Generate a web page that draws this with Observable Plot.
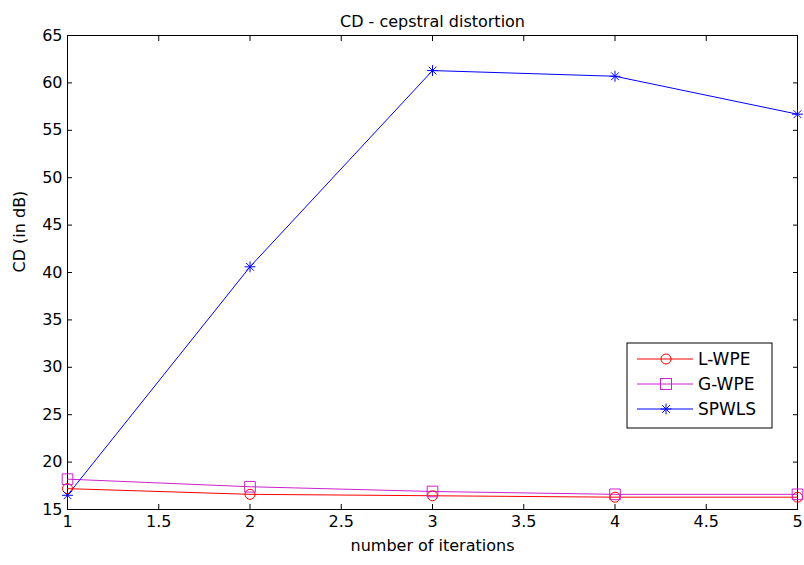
<!DOCTYPE html>
<html>
<head>
<meta charset="utf-8">
<script src="https://cdn.jsdelivr.net/npm/d3@7"></script>
<script src="https://cdn.jsdelivr.net/npm/@observablehq/plot@0.6"></script>
<style>
  body { margin: 0; background: #fff; }
  #chart svg { display: block; }
</style>
</head>
<body>
<div id="chart"></div>
<script>
// Iteration count on the horizontal axis
const iterations = [1, 2, 3, 4, 5];

// Cepstral distortion (dB) per method
const lwpe  = [17.2, 16.6, 16.45, 16.3, 16.3];
const gwpe  = [18.2, 17.4, 16.9, 16.6, 16.6];
const spwls = [16.5, 40.6, 61.3, 60.7, 56.7];

const xTicks = [1, 1.5, 2, 2.5, 3, 3.5, 4, 4.5, 5];
const yTicks = [15, 20, 25, 30, 35, 40, 45, 50, 55, 60, 65];

const series = [
  {name: "L-WPE", values: lwpe, color: "#ff0000", marker: "circle"},
  {name: "G-WPE", values: gwpe, color: "#cc22cc", marker: "square"},
  {name: "SPWLS", values: spwls, color: "#0000ff", marker: "star"}
];

const rows = series.flatMap(s =>
  iterations.map((it, i) => ({series: s.name, x: it, y: s.values[i]}))
);

const font = "DejaVu Sans, Verdana, sans-serif";
const fs = 16;
const W = 804, H = 565;
const blank = () => "";
const num = d3.format("~g");
const starR = 3.6;

const markFor = (s) => {
  const data = rows.filter(d => d.series === s.name);
  const base = {x: "x", y: "y", stroke: s.color, fill: "none", strokeWidth: 1};
  if (s.marker === "circle") return [Plot.dot(data, {...base, symbol: "circle", r: 5})];
  if (s.marker === "square") return [Plot.dot(data, {...base, symbol: "square", r: 6})];
  return [
    Plot.dot(data, {...base, symbol: "plus", r: starR}),
    Plot.dot(data, {...base, symbol: "times", r: starR})
  ];
};

const chart = Plot.plot({
  width: W,
  height: H,
  marginLeft: 67,
  marginRight: 7,
  marginTop: 35,
  marginBottom: 56,
  style: {fontFamily: font, fontSize: `${fs}px`, color: "#000", background: "#fff", overflow: "visible"},
  x: {domain: [1, 5], ticks: xTicks},
  y: {domain: [15, 65], ticks: yTicks},
  marks: [
    Plot.frame({stroke: "#000", strokeWidth: 1}),
    // inward tick marks on all four sides
    Plot.axisX(xTicks, {anchor: "bottom", tickSize: -5, tickFormat: blank, label: null, stroke: "#000"}),
    Plot.axisX(xTicks, {anchor: "top", tickSize: -5, tickFormat: blank, label: null, stroke: "#000"}),
    Plot.axisY(yTicks, {anchor: "left", tickSize: -5, tickFormat: blank, label: null, stroke: "#000"}),
    Plot.axisY(yTicks, {anchor: "right", tickSize: -5, tickFormat: blank, label: null, stroke: "#000"}),
    // tick labels
    Plot.axisX(xTicks, {anchor: "bottom", tickSize: 0, tickPadding: 6, tickFormat: num, label: null, fontSize: fs, color: "#000"}),
    Plot.axisY(yTicks, {anchor: "left", tickSize: 0, tickPadding: 5, tickFormat: num, label: null, fontSize: fs, color: "#000"}),
    // axis titles
    Plot.text(["number of iterations"], {frameAnchor: "bottom", dy: 41, fontSize: fs, fill: "#000"}),
    Plot.text(["CD (in dB)"], {frameAnchor: "left", dx: -48, rotate: -90, fontSize: fs, fill: "#000"}),
    Plot.text(["CD - cepstral distortion"], {frameAnchor: "top", dy: -20, fontSize: fs, fill: "#000"}),
    // series lines and markers
    ...series.map(s => Plot.line(rows.filter(d => d.series === s.name), {x: "x", y: "y", stroke: s.color, strokeWidth: 1})),
    ...series.flatMap(markFor)
  ]
});

document.getElementById("chart").appendChild(chart);

// Legend box in the lower right of the axes
const svg = d3.select(chart);
const lg = svg.append("g").attr("transform", "translate(627,343)");
lg.append("rect").attr("width", 145).attr("height", 85)
  .attr("fill", "#fff").attr("stroke", "#000").attr("stroke-width", 1);
series.forEach((s, i) => {
  const y = 16 + i * 25;
  const row = lg.append("g").attr("transform", `translate(0,${y})`);
  row.append("line").attr("x1", 10).attr("x2", 66).attr("y1", 0).attr("y2", 0)
    .attr("stroke", s.color).attr("stroke-width", 1);
  const m = row.append("g").attr("transform", "translate(39,0)")
    .attr("fill", "none").attr("stroke", s.color).attr("stroke-width", 1);
  if (s.marker === "circle") m.append("circle").attr("r", 5);
  else if (s.marker === "square") m.append("rect").attr("x", -5.5).attr("y", -5.5).attr("width", 11).attr("height", 11);
  else {
    m.append("path").attr("d", d3.symbol(d3.symbolPlus, Math.PI * starR * starR)());
    m.append("path").attr("d", d3.symbol(d3.symbolTimes, Math.PI * starR * starR)());
  }
  row.append("text").attr("x", 71).attr("y", 0).attr("dy", "0.35em")
    .attr("text-anchor", "start")
    .attr("font-family", font).attr("font-size", 17).attr("fill", "#000")
    .text(s.name);
});
</script>
</body>
</html>
